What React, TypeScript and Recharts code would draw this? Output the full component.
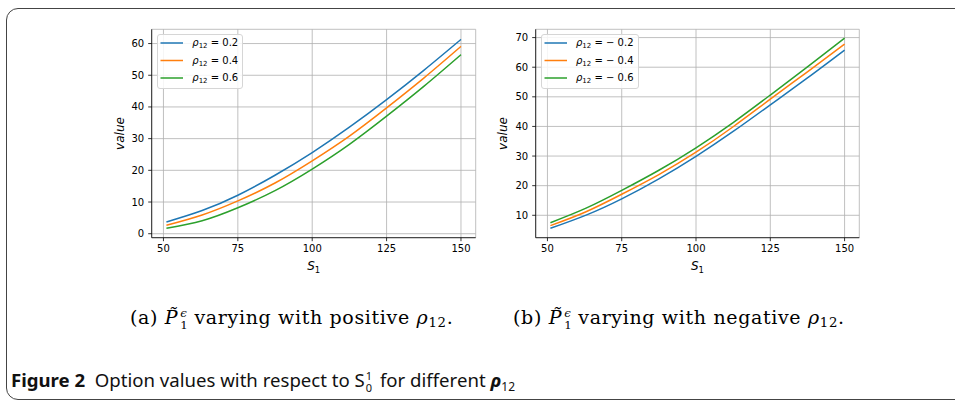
import React from 'react';
import { LineChart, Line, XAxis, YAxis, CartesianGrid, Legend } from 'recharts';

const sValues = [51, 63, 75, 87.5, 100, 112.5, 125, 137.5, 150];
const posRho02 = [3.7, 7.3, 12.15, 18.45, 25.6, 33.6, 42.3, 51.55, 61.3];
const posRho04 = [2.65, 5.9, 10.35, 16.0, 23.0, 30.8, 39.7, 49.1, 59.1];
const posRho06 = [1.7, 4.1, 8.2, 13.6, 20.4, 28.2, 37.1, 46.5, 56.5];
const negRho02 = [5.6, 10.05, 15.55, 22.3, 29.9, 38.3, 47.3, 56.4, 65.8];
const negRho04 = [6.5, 11.2, 17.1, 23.75, 31.3, 39.9, 49.2, 58.45, 67.8];
const negRho06 = [7.5, 12.4, 18.4, 25.2, 32.8, 41.3, 50.6, 60.1, 69.8];
const xTicks = [50, 75, 100, 125, 150];
const posYTicks = [0, 10, 20, 30, 40, 50, 60];
const negYTicks = [10, 20, 30, 40, 50, 60, 70];
const posLabels = ['0.2', '0.4', '0.6'];
const negLabels = ['\u2212 0.2', '\u2212 0.4', '\u2212 0.6'];
const colors = ['#1f77b4', '#ff7f0e', '#2ca02c'];

const posData = sValues.map((s, i) => ({ s, a: posRho02[i], b: posRho04[i], c: posRho06[i] }));
const negData = sValues.map((s, i) => ({ s, a: negRho02[i], b: negRho04[i], c: negRho06[i] }));

const FONT = '"DejaVu Sans", sans-serif';
const tickStyle = { fill: '#000', fontSize: 10, fontFamily: FONT };

const LegendBox = ({ labels, width, textLeft }: { labels: string[]; width: number; textLeft: number }) => (
  <div
    style={{
      position: 'relative',
      width,
      height: 55,
      boxSizing: 'border-box',
      border: '1px solid #d6d6d6',
      borderRadius: 3,
      background: 'rgba(255,255,255,0.85)',
      fontFamily: FONT,
      fontSize: 10,
      color: '#000',
    }}
  >
    <svg width={width} height={55} style={{ position: 'absolute', left: -1, top: -1 }}>
      {labels.map((l, i) => (
        <line key={i} x1={3.5} x2={26} y1={9 + i * 17.5} y2={9 + i * 17.5} stroke={colors[i]} strokeWidth={1.5} />
      ))}
    </svg>
    {labels.map((l, i) => (
      <div
        key={i}
        style={{ position: 'absolute', left: textLeft, top: 9 + i * 17.5 - 8, whiteSpace: 'nowrap', lineHeight: '14px' }}
      >
        <span style={{ fontStyle: 'italic' }}>ρ</span>
        <span style={{ fontSize: 7, position: 'relative', top: 2 }}>12</span>
        <span> = {l}</span>
      </div>
    ))}
  </div>
);

const xLabel = (props: any) => {
  const vb = props.viewBox;
  return (
    <text x={vb.x + vb.width / 2} y={vb.y + 32} textAnchor="middle" fontFamily={FONT} fontSize={12} fill="#000">
      <tspan fontStyle="italic">S</tspan>
      <tspan fontSize={8.5} dy={3}>1</tspan>
    </text>
  );
};

const yLabel = (offset: number) => (props: any) => {
  const vb = props.viewBox;
  const x = vb.x + offset;
  const y = vb.y + vb.height / 2;
  return (
    <text
      x={x}
      y={y}
      transform={`rotate(-90, ${x}, ${y})`}
      textAnchor="middle"
      dominantBaseline="central"
      fontFamily={FONT}
      fontSize={12}
      fontStyle="italic"
      fill="#000"
    >
      value
    </text>
  );
};

const Panel = ({
  data,
  yDomain,
  yTicks,
  labels,
  width,
  margin,
  legendLeft,
  legendWidth,
  legendTextLeft,
  yLabelOffset,
}: any) => (
  <LineChart width={width} height={290} data={data} margin={margin}>
    <CartesianGrid stroke="#b0b0b0" strokeWidth={0.8} />
    <XAxis
      dataKey="s"
      type="number"
      domain={[46.05, 154.95]}
      ticks={xTicks}
      allowDataOverflow
      height={30}
      tick={tickStyle}
      tickSize={3.5}
      tickMargin={4}
      tickLine={{ stroke: '#000', strokeWidth: 0.8 }}
      axisLine={{ stroke: '#000', strokeWidth: 0.8 }}
      label={{ content: xLabel }}
    />
    <XAxis
      xAxisId="top"
      orientation="top"
      dataKey="s"
      type="number"
      domain={[46.05, 154.95]}
      height={0}
      tick={false}
      tickLine={false}
      axisLine={{ stroke: '#000', strokeWidth: 0.8 }}
    />
    <YAxis
      type="number"
      domain={yDomain}
      ticks={yTicks}
      allowDataOverflow
      width={40}
      tick={tickStyle}
      tickSize={3.5}
      tickMargin={4}
      tickLine={{ stroke: '#000', strokeWidth: 0.8 }}
      axisLine={{ stroke: '#000', strokeWidth: 0.8 }}
      label={{ content: yLabel(yLabelOffset) }}
    />
    <YAxis
      yAxisId="right"
      orientation="right"
      type="number"
      domain={yDomain}
      width={0}
      tick={false}
      tickLine={false}
      axisLine={{ stroke: '#000', strokeWidth: 0.8 }}
    />
    <Legend
      layout="horizontal"
      verticalAlign="middle"
      align="center"
      wrapperStyle={{ position: 'absolute', left: legendLeft, top: 34.3, width: legendWidth, height: 55 }}
      content={() => <LegendBox labels={labels} width={legendWidth} textLeft={legendTextLeft} />}
    />
    {['a', 'b', 'c'].map((k, i) => (
      <Line
        key={k}
        dataKey={k}
        type="natural"
        stroke={colors[i]}
        strokeWidth={1.5}
        dot={false}
        activeDot={false}
        isAnimationActive={false}
      />
    ))}
  </LineChart>
);

const SerifCap = ({ letter, tail }: { letter: string; tail: string }) => (
  <span style={{ whiteSpace: 'nowrap' }}>
    ({letter}){' '}
    <span style={{ fontStyle: 'italic' }}>P&#771;</span>
    <span
      style={{
        display: 'inline-flex',
        flexDirection: 'column',
        verticalAlign: 'middle',
        fontSize: '0.62em',
        lineHeight: '1.05em',
        marginLeft: 2,
        marginRight: 6,
      }}
    >
      <span style={{ fontStyle: 'italic' }}>ϵ</span>
      <span>1</span>
    </span>
    varying with {tail}{' '}
    <span style={{ fontStyle: 'italic' }}>ρ</span>
    <span style={{ fontSize: '0.7em', position: 'relative', top: 3 }}>12</span>.
  </span>
);

export default function App() {
  return (
    <div style={{ position: 'absolute', left: 0, top: 0, width: 955, height: 403, overflow: 'hidden', background: '#fff' }}>
      <div
        style={{
          position: 'absolute',
          left: 6,
          top: 8,
          width: 1000,
          height: 392,
          border: '1px solid #444',
          borderRadius: 12,
          boxSizing: 'border-box',
        }}
      />
      <div style={{ position: 'absolute', left: 0, top: 0 }}>
        <Panel
          data={posData}
          yDomain={[-1.26, 64.5]}
          yTicks={posYTicks}
          labels={posLabels}
          width={480}
          margin={{ top: 29.3, right: 4.3, bottom: 22.3, left: 111.7 }}
          legendLeft={157.3}
          legendWidth={86}
          legendTextLeft={34}
          yLabelOffset={8.3}
        />
      </div>
      <div style={{ position: 'absolute', left: 480, top: 0 }}>
        <Panel
          data={negData}
          yDomain={[2.43, 72.8]}
          yTicks={negYTicks}
          labels={negLabels}
          width={400}
          margin={{ top: 29.3, right: 20.7, bottom: 22.3, left: 15.7 }}
          legendLeft={61}
          legendWidth={98}
          legendTextLeft={34}
          yLabelOffset={7}
        />
      </div>
      <div
        style={{
          position: 'absolute',
          left: 0,
          top: 306,
          width: 955,
          fontFamily: '"DejaVu Serif", serif',
          fontSize: 19,
          letterSpacing: 0.65,
          color: '#000',
        }}
      >
        <div style={{ position: 'absolute', left: 130, top: 0 }}>
          <SerifCap letter="a" tail="positive" />
        </div>
        <div style={{ position: 'absolute', left: 513, top: 0 }}>
          <SerifCap letter="b" tail="negative" />
        </div>
      </div>
      <div
        style={{
          position: 'absolute',
          left: 11,
          top: 368,
          fontFamily: '"Noto Sans", sans-serif',
          fontSize: 18.6,
          color: '#111',
          whiteSpace: 'nowrap',
          lineHeight: '24px',
        }}
      >
        <span style={{ fontWeight: 700 }}>Figure 2</span>
        <span>&nbsp;&nbsp;Option values with respect to </span>
        <span>S</span>
        <span
          style={{
            display: 'inline-flex',
            flexDirection: 'column',
            verticalAlign: 'middle',
            fontSize: 11,
            lineHeight: '12px',
            marginLeft: 1,
            marginRight: 3,
          }}
        >
          <span>1</span>
          <span>0</span>
        </span>
        <span> for different </span>
        <span style={{ fontWeight: 700, fontStyle: 'italic' }}>ρ</span>
        <span style={{ fontSize: 12, position: 'relative', top: 4 }}>12</span>
      </div>
    </div>
  );
}
